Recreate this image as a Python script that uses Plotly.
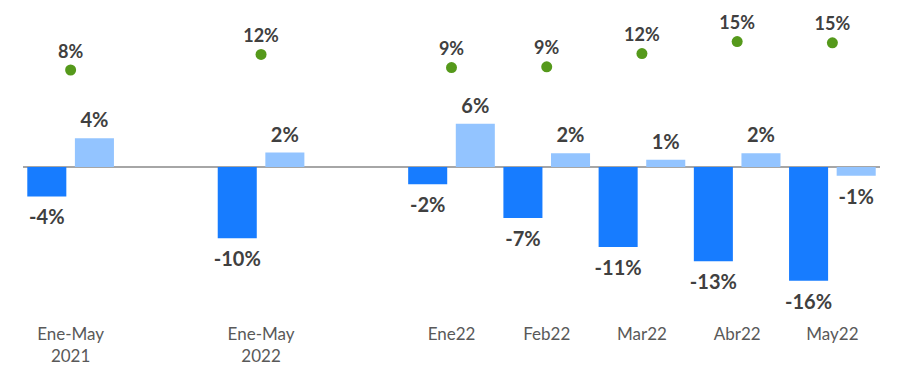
import plotly.graph_objects as go

categories = ["Ene-May<br>2021", "Ene-May<br>2022", "Ene22", "Feb22", "Mar22", "Abr22", "May22"]
positions = [0, 2, 4, 5, 6, 7, 8]
serie_a = [-4.1, -9.9, -2.4, -7.1, -11.1, -13.1, -15.8]
serie_b = [4.0, 2.0, 6.0, 1.9, 1.0, 1.9, -1.2]
serie_c = [8.0, 11.9, 8.6, 8.8, 12.1, 15.1, 14.8]

FONT = "Lato"
TXT = "#404040"
BAR_W = 0.41
SHIFT = 0.25

def lab(vals):
    return [f"{v:.0f}%" for v in vals]

fig = go.Figure()
for vals, color, sign in ((serie_a, "#177CFF", -1), (serie_b, "#93C4FF", 1)):
    xs = [p + sign * SHIFT for p in positions]
    fig.add_trace(go.Bar(
        x=xs, y=vals, width=BAR_W,
        marker=dict(color=color, line=dict(width=0)),
        showlegend=False, hoverinfo="skip",
    ))
    fig.add_trace(go.Scatter(
        x=xs, y=vals, mode="markers+text",
        marker=dict(size=[8 if v >= 0 else 19 for v in vals],
                    color="rgba(0,0,0,0)", opacity=0,
                    line=dict(width=0, color="rgba(0,0,0,0)")),
        text=lab(vals),
        textposition=["top center" if v >= 0 else "bottom center" for v in vals],
        cliponaxis=False,
        textfont=dict(family=FONT, size=20, color=TXT, weight="bold"),
        showlegend=False, hoverinfo="skip",
    ))

fig.add_trace(go.Scatter(
    x=positions, y=serie_c, yaxis="y2", mode="markers+text",
    marker=dict(color="#55991B", size=11, line=dict(width=0)),
    text=lab(serie_c), textposition="top center", cliponaxis=False,
    textfont=dict(family=FONT, size=18, color=TXT, weight="bold"),
    showlegend=False,
))

fig.update_layout(
    width=907, height=367,
    margin=dict(l=23, r=27, t=10, b=45),
    plot_bgcolor="white", paper_bgcolor="white",
    barmode="overlay",
    font=dict(family=FONT),
    xaxis=dict(
        range=[-0.5, 8.5], tickvals=positions, ticktext=categories,
        showgrid=False, showline=False, zeroline=False, ticks="",
        automargin=False,
        tickfont=dict(family=FONT, size=17, color="#595959"),
    ),
    yaxis=dict(
        range=[-21.53, 21.81], showgrid=False, showticklabels=False,
        automargin=False,
        zeroline=True, zerolinecolor="#A6A6A6", zerolinewidth=1.5,
    ),
    yaxis2=dict(
        range=[-55, 23], overlaying="y", showgrid=False,
        automargin=False,
        showticklabels=False, zeroline=False,
    ),
)

fig.write_html("out.html", config={"displayModeBar": False},
               post_script="document.body.style.margin='0';")
